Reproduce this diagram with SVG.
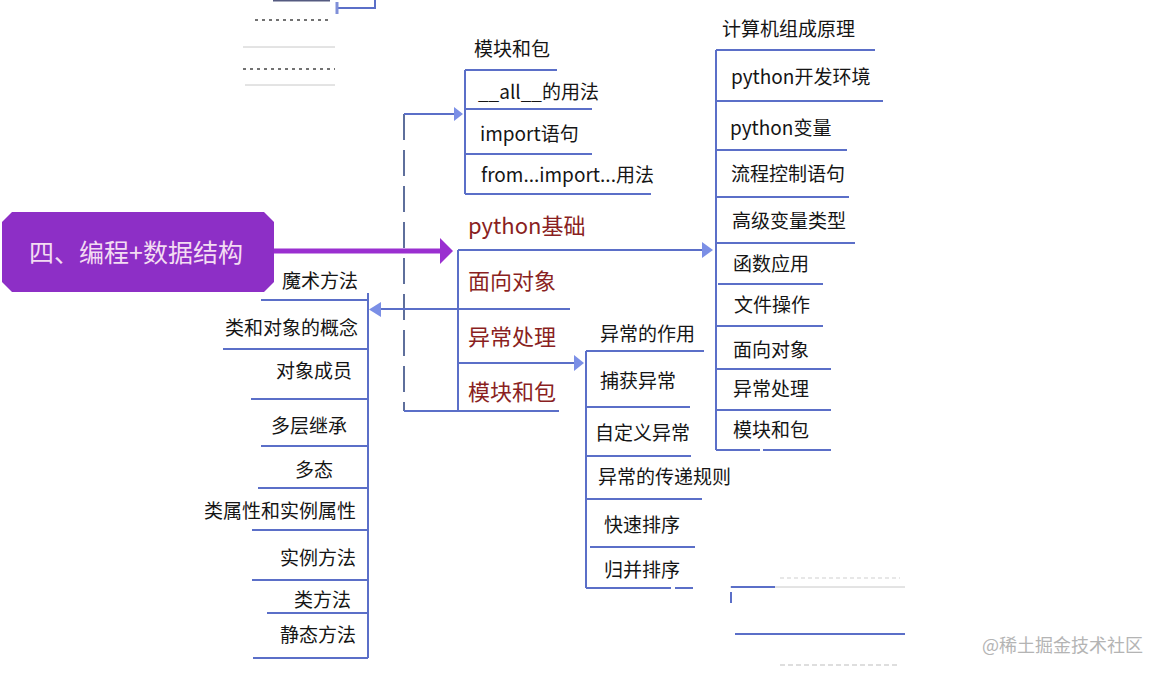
<svg xmlns="http://www.w3.org/2000/svg" width="1162" height="674" viewBox="0 0 1162 674">
<defs>
<style>
text{font-family:"Noto Sans CJK SC","Noto Sans",sans-serif}
.it{font-size:19px;fill:#151515}
.rt{font-size:19px;fill:#151515;text-anchor:end}
.mb{font-size:22px;fill:#8a1f22}
.ln{stroke:#5b6fc8;stroke-width:2;fill:none}
.dl{stroke:#5e6f9c;stroke-width:2;fill:none;stroke-dasharray:26 10}
.ah{fill:#7b8fe6}
.art{stroke:#c8c8c8;stroke-width:1;fill:none}
.artd{stroke:#444;stroke-width:1.5;fill:none;stroke-dasharray:3 4}
</style>
</defs>
<rect width="1162" height="674" fill="#ffffff"/>

<!-- faint scan artifacts -->
<g id="artifacts">
<line x1="273" y1="0.5" x2="330" y2="0.5" stroke="#555a80" stroke-width="2"/>
<polyline points="338,8 375,8 375,0" stroke="#5b6fc8" stroke-width="2" fill="none"/>
<line x1="337" y1="2" x2="337" y2="14" stroke="#8090d8" stroke-width="3"/>
<line x1="255" y1="20" x2="330" y2="20" class="artd"/>
<line x1="243" y1="47" x2="335" y2="47" class="art"/>
<line x1="243" y1="69" x2="335" y2="69" class="artd"/>
<line x1="245" y1="85" x2="335" y2="85" class="art"/>
<line x1="730" y1="587" x2="905" y2="587" class="art"/>
<line x1="731" y1="587" x2="775" y2="587" stroke="#5b6fc8" stroke-width="2"/>
<line x1="731" y1="592" x2="731" y2="603" stroke="#5b6fc8" stroke-width="2"/>
<line x1="735" y1="634" x2="905" y2="634" stroke="#5b6fc8" stroke-width="2"/>
<line x1="780" y1="578" x2="900" y2="578" stroke="#cfcfcf" stroke-width="1" stroke-dasharray="4 3"/>
<line x1="780" y1="665" x2="900" y2="665" stroke="#bdbdbd" stroke-width="1" stroke-dasharray="5 3"/>
</g>

<!-- connectors -->
<g id="connectors">
<line x1="272" y1="251" x2="442" y2="251" stroke="#9a2fd0" stroke-width="5"/>
<polygon points="440,238 453,251 440,264" fill="#9a2fd0"/>
<line x1="404" y1="114" x2="404" y2="411" class="dl"/>
<line x1="404" y1="114" x2="455" y2="114" class="ln"/>
<polygon class="ah" points="454,107 463,114 454,121"/>
<line x1="404" y1="411" x2="559" y2="411" class="ln"/>
<line x1="378" y1="309" x2="570" y2="309" class="ln"/>
<polygon class="ah" points="381,302 369,309.5 381,317"/>
<line x1="458" y1="250" x2="458" y2="411" class="ln"/>
<line x1="458" y1="250" x2="704" y2="250" class="ln"/>
<polygon class="ah" points="702,242 713,250 702,258"/>
<line x1="458" y1="363" x2="576" y2="363" class="ln"/>
<polygon class="ah" points="574,355 584,363 574,371"/>
</g>

<!-- central node -->
<g id="node-center">
<polygon points="12,212 264,212 274,222 274,282 264,292 12,292 2,282 2,222" fill="#8d2fc6"/>
<text x="29" y="262" font-size="25" fill="#f3dcf2">四、编程+数据结构</text>
</g>

<!-- main branch labels -->
<g id="node-main">
<text class="mb" x="468" y="234">python基础</text>
<text class="mb" x="468" y="289">面向对象</text>
<text class="mb" x="468" y="345">异常处理</text>
<text class="mb" x="468" y="400">模块和包</text>
</g>

<!-- module group -->
<g id="node-module">
<text class="it" x="474" y="56">模块和包</text>
<line class="ln" x1="465" y1="70" x2="465" y2="194"/>
<line class="ln" x1="465" y1="70" x2="557" y2="70"/>
<line class="ln" x1="465" y1="109" x2="592" y2="109"/>
<line class="ln" x1="465" y1="154" x2="592" y2="154"/>
<line class="ln" x1="465" y1="194" x2="651" y2="194"/>
<text class="it" x="478" y="99">__all__的用法</text>
<text class="it" x="480" y="141">import语句</text>
<text class="it" x="481" y="182">from...import...用法</text>
</g>

<!-- python basics group -->
<g id="node-basics">
<text class="it" x="722" y="36">计算机组成原理</text>
<line class="ln" x1="716" y1="50" x2="716" y2="450"/>
<line class="ln" x1="716" y1="50" x2="875" y2="50"/>
<line class="ln" x1="716" y1="101" x2="883" y2="101"/>
<line class="ln" x1="716" y1="150" x2="847" y2="150"/>
<line class="ln" x1="716" y1="197" x2="849" y2="197"/>
<line class="ln" x1="716" y1="243" x2="855" y2="243"/>
<line class="ln" x1="718" y1="284" x2="823" y2="284"/>
<line class="ln" x1="716" y1="326" x2="823" y2="326"/>
<line class="ln" x1="716" y1="369" x2="831" y2="369"/>
<line class="ln" x1="716" y1="410" x2="831" y2="410"/>
<line class="ln" x1="716" y1="450" x2="760" y2="450"/>
<line class="ln" x1="763" y1="450" x2="831" y2="450"/>
<text class="it" x="731" y="84">python开发环境</text>
<text class="it" x="730" y="135">python变量</text>
<text class="it" x="731" y="181">流程控制语句</text>
<text class="it" x="732" y="228">高级变量类型</text>
<text class="it" x="733" y="271">函数应用</text>
<text class="it" x="734" y="312">文件操作</text>
<text class="it" x="733" y="357">面向对象</text>
<text class="it" x="733" y="396">异常处理</text>
<text class="it" x="733" y="437">模块和包</text>
</g>

<!-- exception group -->
<g id="node-exception">
<text class="it" x="600" y="341">异常的作用</text>
<line class="ln" x1="586" y1="351" x2="586" y2="588"/>
<line class="ln" x1="586" y1="351" x2="704" y2="351"/>
<line class="ln" x1="586" y1="407" x2="690" y2="407"/>
<line class="ln" x1="586" y1="456" x2="691" y2="456"/>
<line class="ln" x1="586" y1="499" x2="702" y2="499"/>
<line class="ln" x1="590" y1="547" x2="695" y2="547"/>
<line class="ln" x1="586" y1="588" x2="671" y2="588"/>
<line class="ln" x1="675" y1="588" x2="693" y2="588"/>
<text class="it" x="600" y="388">捕获异常</text>
<text class="it" x="595" y="440">自定义异常</text>
<text class="it" x="598" y="484">异常的传递规则</text>
<text class="it" x="604" y="532">快速排序</text>
<text class="it" x="604" y="577">归并排序</text>
</g>

<!-- OOP group -->
<g id="node-oop">
<text class="rt" x="358" y="288">魔术方法</text>
<line class="ln" x1="368" y1="293" x2="368" y2="658"/>
<line class="ln" x1="261" y1="300" x2="368" y2="300"/>
<line class="ln" x1="223" y1="349" x2="368" y2="349"/>
<line class="ln" x1="251" y1="399" x2="368" y2="399"/>
<line class="ln" x1="261" y1="446" x2="368" y2="446"/>
<line class="ln" x1="258" y1="488" x2="368" y2="488"/>
<line class="ln" x1="252" y1="530" x2="368" y2="530"/>
<line class="ln" x1="252" y1="580" x2="368" y2="580"/>
<line class="ln" x1="267" y1="613" x2="368" y2="613"/>
<line class="ln" x1="253" y1="658" x2="368" y2="658"/>
<text class="rt" x="358" y="335">类和对象的概念</text>
<text class="rt" x="352" y="378">对象成员</text>
<text class="rt" x="347" y="433">多层继承</text>
<text class="rt" x="333" y="477">多态</text>
<text class="rt" x="356" y="518">类属性和实例属性</text>
<text class="rt" x="356" y="565">实例方法</text>
<text class="rt" x="351" y="607">类方法</text>
<text class="rt" x="356" y="642">静态方法</text>
</g>

<text x="982" y="652" font-size="18" fill="#b4b4b4">@稀土掘金技术社区</text>
</svg>
